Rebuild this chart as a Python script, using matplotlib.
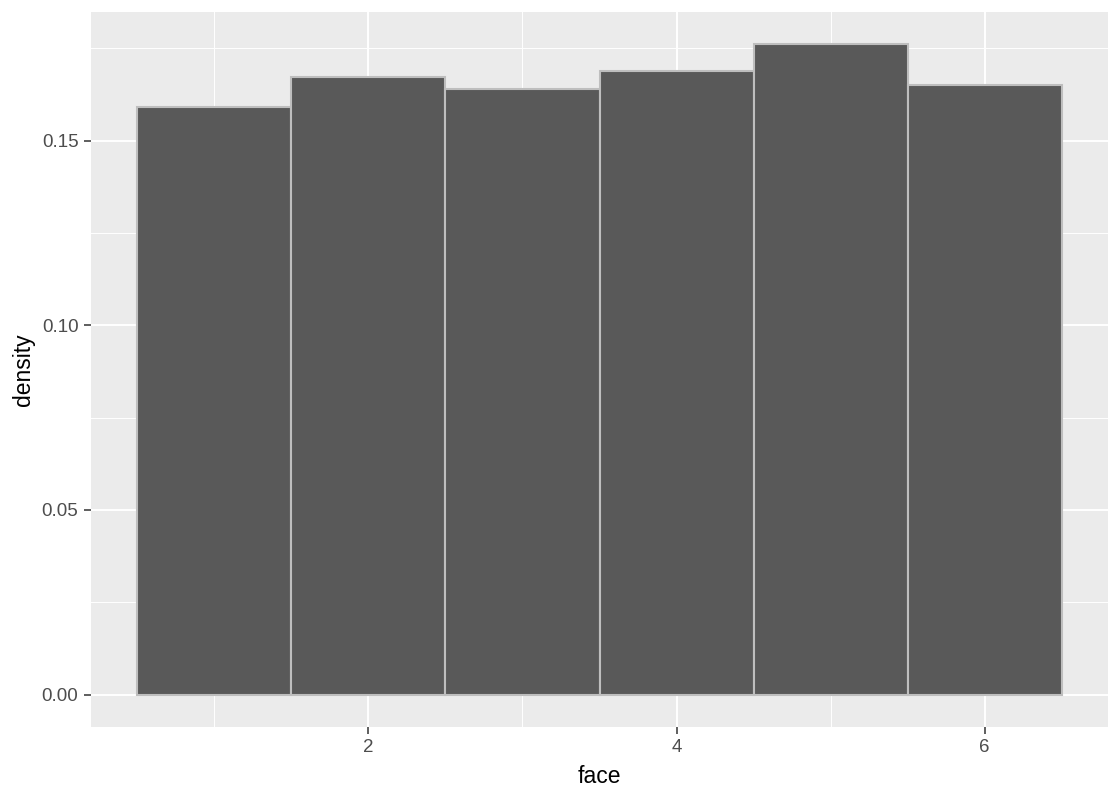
import numpy as np
import matplotlib
matplotlib.use('Agg')
import matplotlib.pyplot as plt

plt.rcParams['font.family'] = ['Liberation Sans', 'DejaVu Sans']

# histogram of die faces (density per face)
faces = [1, 2, 3, 4, 5, 6]
density = [0.1592, 0.1673, 0.1640, 0.1689, 0.1760, 0.1649]
x_ticks = [2, 4, 6]
y_ticks = [0.00, 0.05, 0.10, 0.15]

fig = plt.figure(figsize=(11.2, 8), dpi=100)
ax = fig.add_axes([91/1120, 1 - 727/800, 1017/1120, 715/800])
ax.set_facecolor('#EBEBEB')

ax.bar(faces, density, width=1.0, color='#595959', edgecolor='#BEBEBE', linewidth=1.5, zorder=3)

ax.set_xlim(0.2, 6.8)
top = max(density) * 1.05
ax.set_ylim(-0.05 * max(density), top)

# minor grid lines halfway between majors
for xm in [1, 3, 5]:
    ax.axvline(xm, color='white', lw=0.7, zorder=1)
for ym in [0.025, 0.075, 0.125, 0.175]:
    ax.axhline(ym, color='white', lw=0.7, zorder=1)
for xv in x_ticks:
    ax.axvline(xv, color='white', lw=1.4, zorder=1)
for yv in y_ticks:
    ax.axhline(yv, color='white', lw=1.4, zorder=1)

ax.set_xticks(x_ticks)
ax.set_xticklabels([str(v) for v in x_ticks])
ax.set_yticks(y_ticks)
ax.set_yticklabels([f'{v:.2f}' for v in y_ticks])
ax.tick_params(axis='both', colors='#333333', labelcolor='#4D4D4D', labelsize=13.5, length=5, width=1.1, pad=4)

for s in ax.spines.values():
    s.set_visible(False)

ax.set_xlabel('face', fontsize=16.5, color='black', labelpad=6)
ax.set_ylabel('density', fontsize=16.5, color='black', labelpad=5)

fig.savefig('out.png', dpi=100, facecolor='white')
